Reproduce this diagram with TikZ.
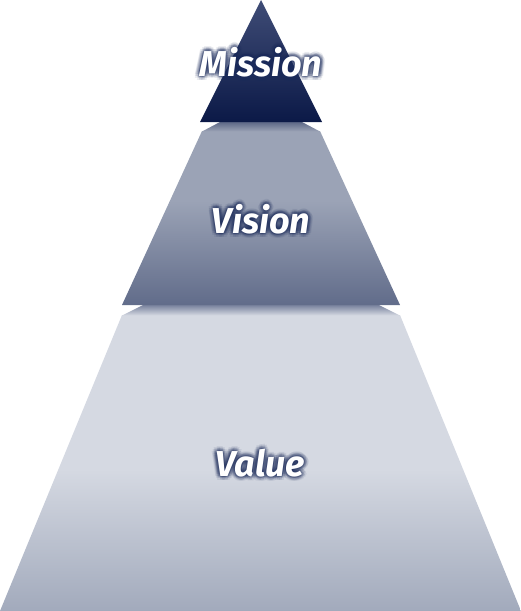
\documentclass[tikz,border=0pt]{standalone}
\usepackage{fontspec}
\setmainfont{Fira Sans}
\definecolor{topT}{HTML}{3F4C76}
\definecolor{topB}{HTML}{0B1947}
\definecolor{midT}{HTML}{9BA3B6}
\definecolor{midB}{HTML}{616C8A}
\definecolor{botT}{HTML}{D5D9E2}
\definecolor{botB}{HTML}{A2AABC}
\definecolor{bandOneT}{HTML}{5C6786}
\definecolor{bandTwoT}{HTML}{78829D}
\definecolor{glowc}{HTML}{1A2A5A}
\pgfdeclareverticalshading{midshade}{100bp}{color(0bp)=(midB); color(25bp)=(midB); color(55bp)=(midT); color(100bp)=(midT)}
\pgfdeclareverticalshading{botshade}{100bp}{color(0bp)=(botB); color(25bp)=(botB); color(49bp)=(botT); color(100bp)=(botT)}
\tikzset{
  lab/.style={text=white, font=\fontsize{36}{40}\selectfont\bfseries\itshape, inner sep=0pt},
  glow/.style={lab, text=glowc, text opacity=0.085},
}
\newcommand{\glowtext}[3]{%
  \foreach \r in {1.5,3,4.5}{%
    \foreach \a in {0,30,...,330}{%
      \node[glow] (#1-\r-\a) at ([shift={(\a:\r)}]#2) {#3};
    }%
  }%
  \node[lab] (#1) at (#2) {#3};
}
\begin{document}
\begin{tikzpicture}[x=1pt,y=-1pt]
\useasboundingbox (0,0) rectangle (521,611);
% bottom layer
\shade[shading=botshade] (122,315) -- (400,315) -- (521,611) -- (0,611) -- cycle;
\shade[top color=bandTwoT, bottom color=botT] (143,305) -- (379,305) -- (400,315.5) -- (122,315.5) -- cycle;
% middle layer
\shade[shading=midshade] (202,131) -- (320,131) -- (400,305) -- (122,305) -- cycle;
\shade[top color=bandOneT, bottom color=midT] (220,122) -- (302,122) -- (320,131.5) -- (202,131.5) -- cycle;
% top layer
\shade[top color=topT, bottom color=topB] (261,0) -- (322,122) -- (200,122) -- cycle;
% labels
\coordinate (pm) at (261,62);
\coordinate (pv) at (261,219);
\coordinate (pl) at (260,463);
\glowtext{mission}{pm}{Mission}
\glowtext{vision}{pv}{Vision}
\glowtext{value}{pl}{Value}
\end{tikzpicture}
\end{document}
